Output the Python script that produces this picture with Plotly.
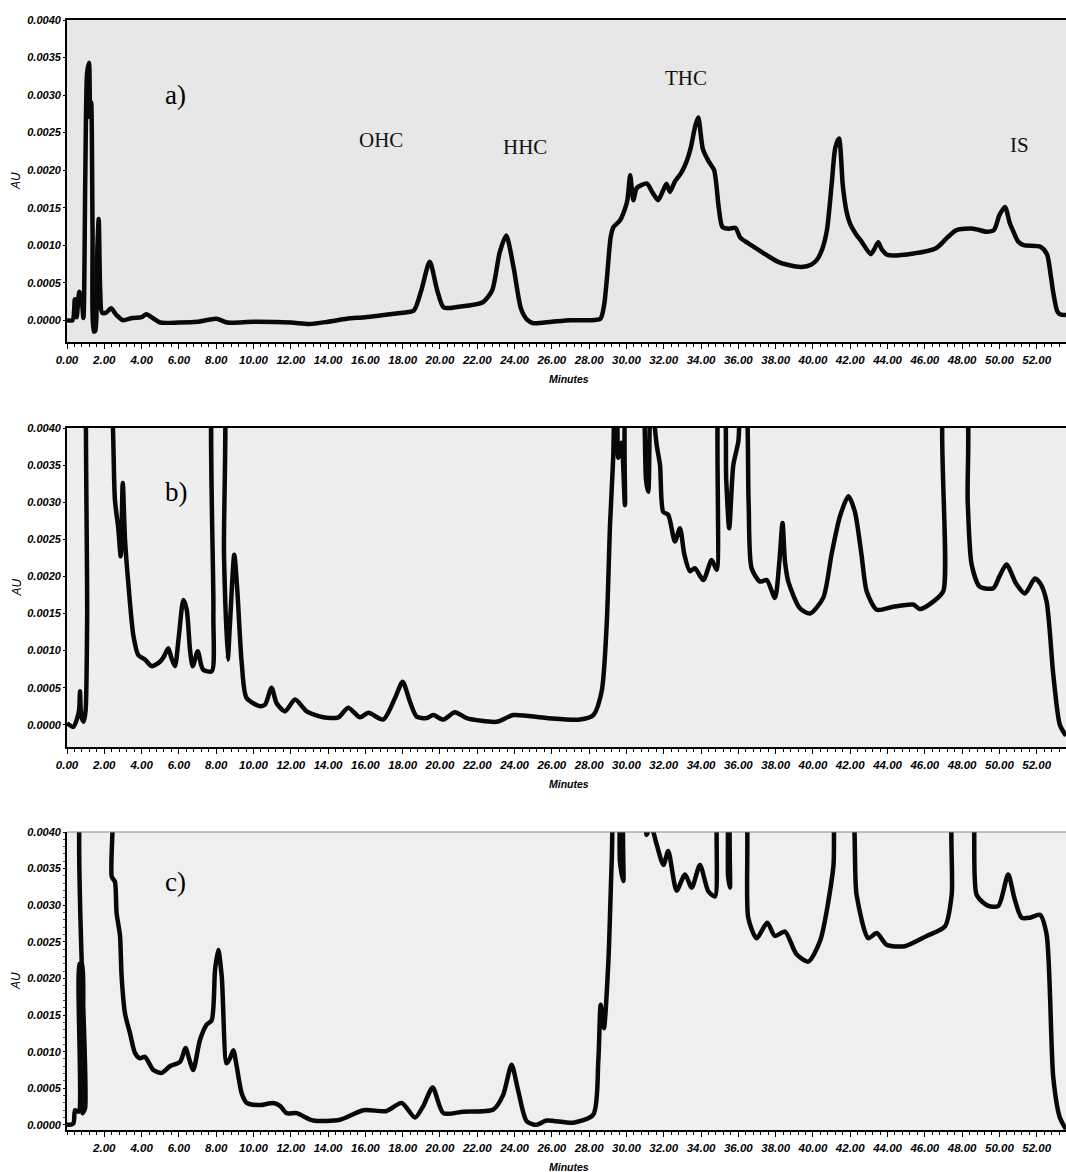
import plotly.graph_objects as go

# ---------------- data (minutes, AU) ----------------
A_time = [0.0, 0.3, 0.42, 0.52, 0.66, 0.78, 0.88, 0.98, 1.08, 1.18, 1.24, 1.3, 1.37, 1.44, 1.52, 1.62,
          1.7, 1.78, 1.88, 2.1, 2.36, 2.65, 3.0, 3.5, 4.0, 4.25, 4.6, 5.0, 6.0, 7.0, 8.0, 8.6, 10.0,
          12.0, 13.0, 14.0, 15.0, 16.0, 17.0, 18.0, 18.6, 19.0, 19.45, 19.85, 20.2, 21.0, 22.3, 22.8,
          23.2, 23.55, 23.95, 24.35, 24.7, 25.0, 26.0, 27.0, 28.0, 28.6, 28.8, 28.95, 29.15, 29.3,
          29.65, 29.9, 30.05, 30.2, 30.37, 30.55, 30.8, 31.1, 31.4, 31.7, 31.95, 32.15, 32.33, 32.6,
          32.9, 33.2, 33.45, 33.7, 33.85, 34.1, 34.4, 34.7, 34.95, 35.15, 35.5, 35.85, 36.1, 36.5,
          37.0, 37.5, 38.2, 39.0, 39.4, 39.9, 40.2, 40.5, 40.75, 41.0, 41.2, 41.4, 41.6, 41.8, 42.0,
          42.3, 42.6, 43.1, 43.3, 43.5, 43.7, 44.0, 45.4, 46.6, 47.2, 47.7, 48.6, 49.3, 49.7, 50.0,
          50.3, 50.55, 50.75, 51.0, 51.3, 52.2, 52.55, 52.75, 52.9, 53.1, 53.25, 53.57]
A_au = [0.0, 0.0, 0.00028, 0.00004, 0.00038, 0.00030, 0.00003, 0.0019, 0.0033, 0.00343, 0.0027, 0.0029,
        0.0012, -0.00015, -0.00014, 0.0009, 0.00135, 0.0004, 0.0001, 0.0001, 0.00016, 0.00007, 0.0,
        0.00003, 0.00004, 0.00008, 0.00003, -0.00003, -0.00003, -0.00002, 0.00002, -0.00003, -0.00002,
        -0.00003, -0.00005, -0.00002, 0.00002, 0.00004, 0.00007, 0.0001, 0.00013, 0.0004, 0.00078,
        0.0004, 0.00017, 0.00018, 0.00024, 0.0004, 0.0009, 0.00113, 0.0007, 0.00015, 0.0, -0.00004,
        -0.00002, 0.0, 0.0, 0.00002, 0.0002, 0.00055, 0.0011, 0.00124, 0.00133, 0.00147, 0.0016,
        0.00193, 0.0016, 0.00176, 0.0018, 0.00182, 0.0017, 0.0016, 0.00172, 0.00182, 0.00171, 0.00185,
        0.00195, 0.0021, 0.0023, 0.0026, 0.0027, 0.00228, 0.00212, 0.002, 0.0015, 0.00124, 0.00122,
        0.00123, 0.0011, 0.00103, 0.00095, 0.00087, 0.00077, 0.00072, 0.00071, 0.00074, 0.0008,
        0.00095, 0.0012, 0.0018, 0.0023, 0.00242, 0.0018, 0.00145, 0.00128, 0.00115, 0.00105, 0.00088,
        0.00095, 0.00104, 0.00094, 0.00087, 0.00089, 0.00096, 0.0011, 0.0012, 0.00122, 0.00118,
        0.0012, 0.0014, 0.00151, 0.0013, 0.00118, 0.00105, 0.001, 0.00098, 0.00088, 0.0006, 0.00035,
        0.00012, 0.00008, 0.00007]

B_time = [0.0, 0.34, 0.55, 0.65, 0.7, 0.76, 0.9, 1.0, 1.08, 1.18, 2.3, 2.57, 2.75, 2.88, 2.99, 3.11,
          3.29, 3.56, 3.82, 4.18, 4.54, 4.99, 5.2, 5.43, 5.6, 5.79, 6.0, 6.24, 6.42, 6.6, 6.74, 7.01,
          7.2, 7.31, 7.76, 7.85, 7.94, 8.3, 8.42, 8.62, 8.74, 8.97, 9.13, 9.37, 9.63, 10.35, 10.62,
          10.97, 11.24, 11.69, 12.23, 12.85, 13.74, 14.55, 15.08, 15.71, 16.16, 16.96, 17.59, 18.0,
          18.39, 18.75, 19.29, 19.64, 20.18, 20.8, 21.43, 23.04, 23.93, 25.72, 27.5, 28.22, 28.67,
          28.94, 29.12, 29.29, 29.38, 29.5, 29.56, 29.74, 29.92, 30.05, 30.4, 30.8, 30.95, 31.05, 31.17,
          31.3, 31.62, 31.8, 31.97, 32.24, 32.6, 32.87, 33.1, 33.4, 33.67, 34.12, 34.57, 34.84, 35.0,
          35.2, 35.35, 35.51, 35.73, 36.0, 36.18, 36.35, 36.55, 36.71, 37.16, 37.52, 37.96, 38.2,
          38.37, 38.5, 38.68, 39.3, 39.84, 40.55, 41.0, 41.45, 41.9, 42.25, 42.6, 42.88, 43.42, 44.3,
          45.38, 45.74, 46.45, 46.99, 47.15, 48.1, 48.3, 48.51, 48.95, 49.67, 50.0, 50.38, 50.9, 51.37,
          51.9, 52.2, 52.53, 52.89, 53.24, 53.57]
B_au = [0.00002, -0.00003, 0.00009, 0.0002, 0.00045, 0.00012, 0.00004, 0.0002, 0.0014, 0.006, 0.0048,
        0.00303, 0.00265, 0.00227, 0.00326, 0.0025, 0.0019, 0.0012, 0.00094, 0.00088, 0.00079, 0.00085,
        0.00092, 0.00103, 0.0009, 0.00079, 0.0012, 0.00168, 0.00155, 0.001, 0.00079, 0.00099, 0.0008,
        0.00074, 0.00072, 0.0015, 0.005, 0.005, 0.00227, 0.00088, 0.00137, 0.00229, 0.00182, 0.00083,
        0.00036, 0.00025, 0.00027, 0.0005, 0.00029, 0.00018, 0.00034, 0.00018, 0.0001, 0.0001,
        0.00023, 0.0001, 0.00016, 0.00007, 0.00036, 0.00058, 0.00031, 0.00011, 0.00009, 0.00013,
        0.00007, 0.00017, 0.00009, 0.00004, 0.00013, 0.00009, 0.00007, 0.00013, 0.00045, 0.00135,
        0.0027, 0.0036, 0.0045, 0.0042, 0.0036, 0.0038, 0.00296, 0.0045, 0.0045, 0.0045, 0.0042,
        0.0033, 0.00314, 0.0045, 0.00377, 0.0035, 0.00287, 0.00283, 0.00247, 0.00265, 0.0023, 0.00207,
        0.00211, 0.00195, 0.00222, 0.00209, 0.0045, 0.0045, 0.0033, 0.00265, 0.0035, 0.00382, 0.0045,
        0.0045, 0.0030, 0.00211, 0.00193, 0.00195, 0.00171, 0.0022, 0.00272, 0.0022, 0.00193, 0.00157,
        0.0015, 0.00171, 0.0023, 0.00281, 0.00308, 0.00287, 0.0023, 0.0018, 0.00155, 0.00159, 0.00162,
        0.00156, 0.00166, 0.0018, 0.0045, 0.0045, 0.0030, 0.00216, 0.00186, 0.00184, 0.002, 0.00216,
        0.0019, 0.00177, 0.00197, 0.0019, 0.00166, 0.00067, 0.0, -0.00015]

C_time = [0.0, 0.34, 0.43, 0.62, 0.68, 0.8, 0.83, 0.97, 1.02, 2.3, 2.4, 2.57, 2.66, 2.84, 2.93, 3.11,
          3.38, 3.65, 3.91, 4.18, 4.63, 5.08, 5.52, 6.06, 6.36, 6.55, 6.77, 7.13, 7.49, 7.76, 7.94,
          8.11, 8.3, 8.56, 8.74, 8.92, 9.1, 9.37, 9.64, 10.35, 11.06, 11.42, 11.78, 12.31, 13.2, 14.64,
          15.89, 17.14, 17.95, 18.66, 19.11, 19.61, 20.18, 21.25, 22.86, 23.39, 23.84, 24.2, 24.65,
          25.18, 25.72, 27.15, 28.22, 28.49, 28.62, 28.79, 29.03, 29.21, 29.38, 29.55, 29.65, 29.83,
          30.0, 30.9, 31.08, 31.3, 31.62, 31.98, 32.24, 32.69, 33.14, 33.5, 33.94, 34.39, 34.75, 34.95,
          35.3, 35.45, 35.55, 35.7, 36.3, 36.53, 36.98, 37.55, 37.96, 38.5, 39.12, 39.75, 40.38,
          41.09, 41.3, 42.0, 42.34, 42.97, 43.42, 43.95, 44.93, 46.1, 47.08, 47.44, 47.6, 48.45, 48.78,
          49.4, 49.94, 50.47, 50.8, 51.19, 51.64, 52.17, 52.53, 52.89, 53.24, 53.57]
C_au = [0.0, 0.00002, 0.0002, 0.00018, 0.0022, 0.0022, 0.00016, 0.00023, 0.005, 0.005, 0.00339,
        0.00332, 0.00289, 0.00259, 0.00202, 0.00152, 0.00125, 0.00098, 0.00091, 0.00093, 0.00075,
        0.00071, 0.0008, 0.00086, 0.00105, 0.0009, 0.00075, 0.00116, 0.00137, 0.00143, 0.00212,
        0.00239, 0.00202, 0.00084, 0.00091, 0.00102, 0.0008, 0.00043, 0.0003, 0.00027, 0.0003,
        0.00026, 0.00016, 0.00016, 0.00006, 0.00007, 0.0002, 0.00019, 0.0003, 0.0001, 0.00026,
        0.00051, 0.00016, 0.00018, 0.00021, 0.00041, 0.00082, 0.00046, 0.00005, 0.0, 0.00006,
        0.00003, 0.00014, 0.00087, 0.00164, 0.00132, 0.00223, 0.0036, 0.0045, 0.0045, 0.0036,
        0.00333, 0.0045, 0.0045, 0.00396, 0.0041, 0.00383, 0.00355, 0.00374, 0.0032, 0.00342,
        0.00324, 0.00355, 0.00319, 0.00312, 0.0045, 0.0045, 0.0034, 0.00324, 0.0045, 0.0045,
        0.00283, 0.00255, 0.00276, 0.00258, 0.00264, 0.00233, 0.00223, 0.00251, 0.00351, 0.0045,
        0.0045, 0.00314, 0.00255, 0.00262, 0.00246, 0.00244, 0.00258, 0.00271, 0.00314, 0.0045,
        0.0045, 0.00314, 0.00299, 0.00299, 0.00342, 0.0031, 0.00283, 0.00283, 0.00287, 0.0026,
        0.00064, 0.0001, -0.00006]

X_TICKS = list(range(0, 53, 2))
X_LABELS = ["%.2f" % v for v in X_TICKS]
X_TICKS_C = X_TICKS[1:]
X_LABELS_C = X_LABELS[1:]
Y_TICKS = [0.0, 0.0005, 0.0010, 0.0015, 0.0020, 0.0025, 0.0030, 0.0035, 0.0040]
Y_LABELS = ["%.4f" % v for v in Y_TICKS]

PANEL_LABELS = ["a)", "b)", "c)"]
PEAK_NAMES = ["OHC", "HHC", "THC", "IS"]

# ---------------- layout geometry ----------------
W, H = 1066, 1172
def fx(p):
    return p / W
def fy(p):
    return 1 - p / H

X_MAX = 53.57
panels = [
    dict(t=A_time, v=A_au, ymin=-0.00029, top=20, bot=342, bg="#e7e7e7", ticks=(X_TICKS, X_LABELS), mirror=True, yminor=False),
    dict(t=B_time, v=B_au, ymin=-0.00030, top=428, bot=747, bg="#eeeeee", ticks=(X_TICKS, X_LABELS), mirror=True, yminor=False),
    dict(t=C_time, v=C_au, ymin=-0.00007, top=832, bot=1130, bg="#efefef", ticks=(X_TICKS_C, X_LABELS_C), mirror=False, yminor=True),
]

xtickfont = dict(family="Liberation Sans, Arial", size=11.5, color="black", weight="bold", style="italic")
ytickfont = dict(family="Liberation Sans, Arial", size=11, color="black", weight="bold", style="italic")

fig = go.Figure()
shapes = []
annotations = []
layout = dict(width=W, height=H, margin=dict(l=0, r=0, t=0, b=0),
              paper_bgcolor="white", plot_bgcolor="rgba(0,0,0,0)", showlegend=False)

def note(text, x, y, font, angle=0):
    return dict(text=text, x=fx(x), y=fy(y), xref="paper", yref="paper", showarrow=False,
                xanchor="center", yanchor="middle", textangle=angle, font=font)

for i, p in enumerate(panels):
    s = "" if i == 0 else str(i + 1)
    fig.add_trace(go.Scatter(x=p["t"], y=p["v"], mode="lines",
                             line=dict(color="#080808", width=4.5, shape="spline", smoothing=0.7),
                             xaxis="x" + s, yaxis="y" + s, hoverinfo="skip"))
    ydom = [fy(p["bot"]), fy(p["top"])]
    layout["xaxis" + s] = dict(
        domain=[fx(67), 1.0], range=[0, X_MAX], anchor="y" + s,
        tickvals=p["ticks"][0], ticktext=p["ticks"][1], tickfont=xtickfont,
        ticks="outside", ticklen=5, tickwidth=1, tickcolor="black",
        minor=dict(dtick=0.4, tick0=0, ticks="outside", ticklen=3, tickcolor="black", tickwidth=1),
        showline=True, linecolor="black", linewidth=1.8, mirror=p["mirror"],
        showgrid=False, zeroline=False, automargin=False, ticklabelstandoff=1, fixedrange=True)
    ymd = dict(dtick=0.0001, tick0=0, ticks="outside", ticklen=2, tickcolor="#444", tickwidth=1) if p["yminor"] else dict(ticks="")
    layout["yaxis" + s] = dict(
        domain=ydom, range=[p["ymin"], 0.0040], anchor="x" + s,
        tickvals=Y_TICKS, ticktext=Y_LABELS, tickfont=ytickfont,
        ticks="outside", ticklen=2, tickwidth=1, tickcolor="black", minor=ymd,
        showline=True, linecolor="black", linewidth=1.8,
        showgrid=False, zeroline=False, automargin=False, ticklabelstandoff=0, fixedrange=True)
    shapes.append(dict(type="rect", xref="x" + s + " domain", yref="y" + s + " domain",
                       x0=0, x1=1, y0=0, y1=1, fillcolor=p["bg"], line=dict(width=0), layer="below"))
    annotations.append(note("AU", 16, (p["top"] + p["bot"]) / 2,
                            dict(family="Liberation Sans, Arial", size=12, color="black", style="italic"), -90))
    annotations.append(note("Minutes", 569, p["bot"] + 37,
                            dict(family="Liberation Sans, Arial", size=10.5, color="black", style="italic", weight="bold")))

# top line of panel c is faint
shapes.append(dict(type="line", xref="x3 domain", yref="y3 domain", x0=0, x1=1, y0=1, y1=1,
                   line=dict(color="#888888", width=1)))

serif = "Liberation Serif, Times New Roman"
label_pos = [(175, 95), (176, 492), (175, 882)]
for lab, (xx, yy) in zip(PANEL_LABELS, label_pos):
    annotations.append(note(lab, xx, yy, dict(family=serif, size=27, color="black")))
peak_pos = [(381, 140), (525, 147), (686, 78), (1019, 145)]
for lab, (xx, yy) in zip(PEAK_NAMES, peak_pos):
    annotations.append(note(lab, xx, yy, dict(family=serif, size=21, color="#111111")))

layout["shapes"] = shapes
layout["annotations"] = annotations
fig.update_layout(**layout)
fig.write_html("out.html")
